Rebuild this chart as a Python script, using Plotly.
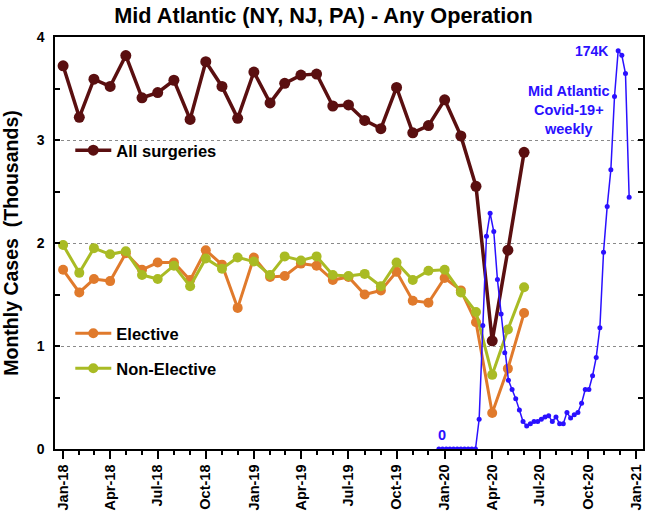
import pandas as pd
import plotly.graph_objects as go

# ---- data ----
months = pd.date_range("2018-01-01", periods=30, freq="MS")
all_surgeries = [3.72, 3.22, 3.59, 3.52, 3.82, 3.41, 3.46, 3.58, 3.20, 3.76,
                 3.52, 3.21, 3.66, 3.36, 3.55, 3.63, 3.64, 3.33, 3.34, 3.19,
                 3.11, 3.51, 3.07, 3.14, 3.39, 3.04, 2.55, 1.05, 1.93, 2.88]
elective = [1.74, 1.52, 1.65, 1.63, 1.90, 1.74, 1.81, 1.81, 1.64, 1.93,
            1.79, 1.37, 1.86, 1.67, 1.68, 1.80, 1.78, 1.64, 1.67, 1.50,
            1.54, 1.72, 1.44, 1.42, 1.66, 1.54, 1.23, 0.35, 0.78, 1.32]
non_elective = [1.98, 1.71, 1.95, 1.89, 1.92, 1.69, 1.65, 1.78, 1.58, 1.85,
                1.75, 1.86, 1.82, 1.69, 1.87, 1.83, 1.87, 1.69, 1.68, 1.70,
                1.58, 1.81, 1.64, 1.73, 1.74, 1.52, 1.33, 0.72, 1.16, 1.57]

weeks = pd.date_range("2019-12-21", periods=53, freq="7D")
covid_weekly_k = [0, 0, 0, 0, 0, 0, 0, 0, 0, 0, 0,
                  13, 54, 93, 103, 95, 74, 59, 42, 30, 26,
                  22, 17, 12, 10, 11, 12, 12, 13, 14, 14.5,
                  12, 14, 11, 11, 16, 13.5, 15, 16, 20, 26,
                  26, 32, 40, 53, 86, 106, 122, 154, 174, 172,
                  164, 110]

BROWN = "#5a0f10"
ORANGE = "#e07a2c"
GREEN = "#a9bb24"
BLUE = "#2a10ff"
FONT = "Liberation Sans, Arial, sans-serif"

fig = go.Figure()
fig.add_trace(go.Scatter(x=months, y=all_surgeries, mode="lines+markers",
                         name="<b>All surgeries</b>", legend="legend",
                         line=dict(color=BROWN, width=3.5),
                         marker=dict(color=BROWN, size=11)))
fig.add_trace(go.Scatter(x=months, y=elective, mode="lines+markers",
                         name="<b>Elective</b>", legend="legend2",
                         line=dict(color=ORANGE, width=3),
                         marker=dict(color=ORANGE, size=10)))
fig.add_trace(go.Scatter(x=months, y=non_elective, mode="lines+markers",
                         name="<b>Non-Elective</b>", legend="legend3",
                         line=dict(color=GREEN, width=3),
                         marker=dict(color=GREEN, size=10)))
fig.add_trace(go.Scatter(x=weeks, y=covid_weekly_k, mode="lines+markers",
                         showlegend=False, yaxis="y2",
                         line=dict(color=BLUE, width=1.5),
                         marker=dict(color=BLUE, size=5)))

leg_common = dict(font=dict(family=FONT, size=16.5, color="black"),
                  bgcolor="rgba(0,0,0,0)", borderwidth=0, xanchor="left",
                  yanchor="middle", itemwidth=36, x=0.026)
fig.update_layout(
    width=647, height=522,
    margin=dict(l=55, r=4, t=37, b=73),
    paper_bgcolor="white", plot_bgcolor="white",
    font=dict(family=FONT, color="black"),
    title=dict(text="<b>Mid Atlantic (NY, NJ, PA) - Any Operation</b>",
               x=0.5, xref="container", xanchor="center",
               y=1 - 15 / 522, yref="container", yanchor="middle",
               font=dict(family=FONT, size=21.7, color="black")),
    legend=dict(y=(448.5 - 150) / 412, **leg_common),
    legend2=dict(y=(448.5 - 333) / 412, **leg_common),
    legend3=dict(y=(448.5 - 368) / 412, **leg_common),
    xaxis=dict(type="date", range=["2017-12-16 12:00", "2021-01-14 12:00"],
               automargin=False,
               tick0="2018-01-01", dtick="M3", tickformat="%b-%y",
               tickangle=-90, ticks="outside", ticklen=8, tickwidth=1.5,
               tickcolor="black",
               tickfont=dict(family=FONT, size=14.5, color="black", weight="bold"),
               minor=dict(dtick="M1", tick0="2018-01-01", ticks="outside",
                          ticklen=4, tickwidth=1.5, tickcolor="black", showgrid=False),
               showgrid=False, showline=True, mirror=True,
               linecolor="black", linewidth=1.5, zeroline=False),
    yaxis=dict(range=[0, 4], tick0=0, dtick=1, ticks="inside", ticklen=5,
               automargin=False, ticklabelstandoff=6,
               tickwidth=1.5, tickcolor="black",
               tickfont=dict(family=FONT, size=14, color="black", weight="bold"),
               minor=dict(dtick=0.5, tick0=0, ticks="inside", ticklen=5,
                          tickwidth=1.5, tickcolor="black", showgrid=False),
               showgrid=True, gridcolor="#8a8a8a", griddash="dot", gridwidth=1,
               showline=True, mirror="ticks", linecolor="black", linewidth=1.5,
               zeroline=False,
               title=dict(text="<b>Monthly Cases\u00a0 (Thousands)</b>",
                          font=dict(family=FONT, size=19.5, color="black"),
                          standoff=14)),
    yaxis2=dict(range=[0, 180], overlaying="y", side="right", visible=False,
                automargin=False),
    annotations=[
        dict(x="2019-12-27", y=0.136, xref="x", yref="y", text="<b>0</b>",
             showarrow=False, font=dict(family=FONT, size=14.5, color=BLUE)),
        dict(x="2020-11-12", y=3.86, xref="x", yref="y", text="<b>174K</b>",
             xanchor="right", showarrow=False,
             font=dict(family=FONT, size=14, color=BLUE)),
        dict(x="2020-08-26", y=3.29, xref="x", yref="y",
             text="<b>Mid Atlantic<br>Covid-19+<br>weekly</b>",
             showarrow=False, align="center",
             font=dict(family=FONT, size=14.5, color=BLUE)),
    ],
)

fig.write_html("out.html", config={"displayModeBar": False},
               post_script="document.body.style.margin='0';"
                           "document.body.style.overflow='hidden';")
